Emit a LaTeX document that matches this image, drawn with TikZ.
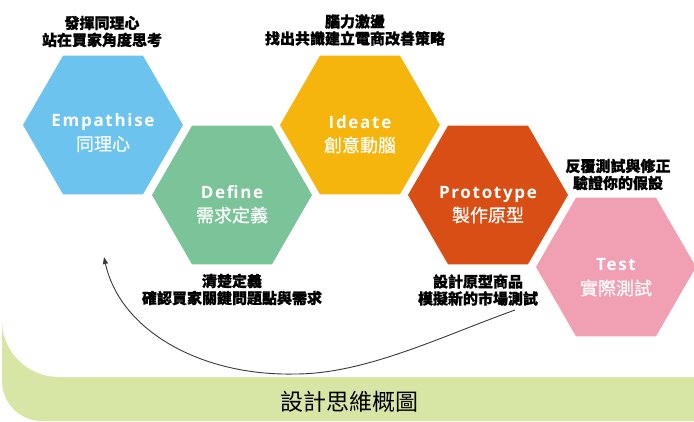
\documentclass[tikz,border=0pt]{standalone}
\usepackage{fontspec}
\usetikzlibrary{shapes.geometric,arrows.meta}
\newfontfamily\cjk{Noto Sans CJK TC}
\newfontfamily\cjkmed{Noto Sans CJK TC}[FakeBold=0.5]
\newfontfamily\cjkheavy{Noto Sans CJK TC}[BoldFeatures={FakeBold=0.8}]
\newfontfamily\latinsp{Open Sans}[LetterSpace=10]
\definecolor{empC}{HTML}{6CC4EE}
\definecolor{defC}{HTML}{7BC398}
\definecolor{ideC}{HTML}{F5B50C}
\definecolor{proC}{HTML}{D84E14}
\definecolor{tesC}{HTML}{F19FB3}
\definecolor{bgG}{HTML}{D7E6A5}
\definecolor{arrC}{HTML}{3A3A3A}
\tikzset{
  hexbox/.style={regular polygon, regular polygon sides=6, minimum size=160pt,
    inner sep=0pt, outer sep=0pt, draw=none},
  hexen/.style={anchor=base, text=white, inner sep=0pt,
    font=\latinsp\bfseries\fontsize{17}{20}\selectfont},
  hexzh/.style={anchor=center, text=white, inner sep=0pt,
    font=\cjkmed\fontsize{18}{20}\selectfont},
  notebox/.style={align=center, text=black, inner sep=0pt,
    font=\cjkheavy\bfseries\fontsize{15}{17}\selectfont},
  arrline/.style={draw=arrC, line width=0.9pt, -{Triangle[length=7pt,width=5pt]}}
}
\begin{document}
\begin{tikzpicture}[x=1pt,y=-1pt]
\useasboundingbox (0,0) rectangle (694,421);
% background
\fill[bgG, rounded corners=40pt] (2,250) rectangle (760,421);
\fill[white, rounded corners=57pt] (2,-100) rectangle (760,377);
% hexagons
\node[hexbox, fill=empC] (emp) at (103,125) {};
\node[hexbox, fill=defC] (def) at (232,195) {};
\node[hexbox, fill=ideC] (ide) at (360,125) {};
\node[hexbox, fill=proC] (pro) at (488,195) {};
\node[hexbox, fill=tesC] (tes) at (616,267) {};
% hexagon texts
\node[hexen] (empE) at ([yshift=-1pt]emp.center) {Empathise};
\node[hexzh] (empZ) at ([yshift=-19pt]emp.center) {同理心};
\node[hexen] (defE) at ([yshift=-3pt]def.center) {Define};
\node[hexzh] (defZ) at ([yshift=-20pt]def.center) {需求定義};
\node[hexen] (ideE) at ([yshift=-3pt]ide.center) {Ideate};
\node[hexzh] (ideZ) at ([yshift=-20pt]ide.center) {創意動腦};
\node[hexen] (proE) at ([yshift=-3pt]pro.center) {Prototype};
\node[hexzh] (proZ) at ([yshift=-20pt]pro.center) {製作原型};
\node[hexen] (tesE) at ([yshift=-3pt]tes.center) {Test};
\node[hexzh] (tesZ) at ([yshift=-21pt]tes.center) {實際測試};
% notes
\node[notebox] (n1) at (102,31.5) {發揮同理心\\站在買家角度思考};
\node[notebox] (n2) at (355,30) {腦力激盪\\找出共識建立電商改善策略};
\node[notebox] (n3) at (618,174.5) {反覆測試與修正\\驗證你的假設};
\node[notebox] (n4) at (232,289.5) {清楚定義\\確認買家關鍵問題點與需求};
\node[notebox] (n5) at (478,290) {設計原型商品\\模擬新的市場測試};
% title
\node[font=\cjk\fontsize{23}{28}\selectfont, inner sep=0pt] (title) at (349,402) {設計思維概圖};
% arrow
\coordinate (aS) at (515,310);
\coordinate (aM) at (295,374);
\coordinate (aE) at (104,257);
\draw[arrline] (aS) .. controls (440,337) and (365,374) .. (aM)
  .. controls (200,376) and (120,330) .. (aE);
\end{tikzpicture}
\end{document}
